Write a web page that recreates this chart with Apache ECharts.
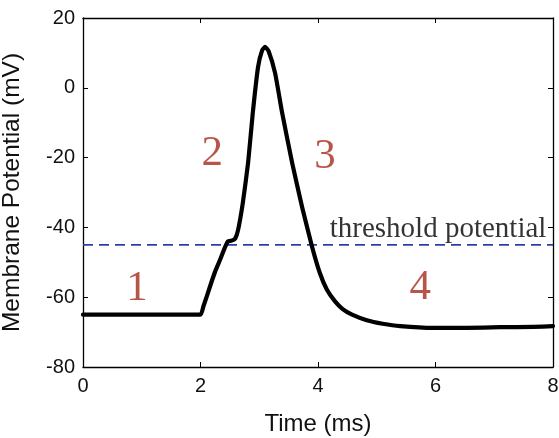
<!DOCTYPE html>
<html>
<head>
<meta charset="utf-8">
<script src="https://cdn.jsdelivr.net/npm/echarts@6/dist/echarts.min.js"></script>
<style>
  html, body { margin: 0; padding: 0; background: #fff; }
  #chart { width: 559px; height: 438px; }
</style>
</head>
<body>
<div id="chart"></div>
<script>
// membrane potential trace
const timeMs = [0, 1, 2.0, 2.05, 2.11, 2.18, 2.25, 2.34, 2.42, 2.47, 2.53, 2.59, 2.64, 2.72, 2.81, 2.89, 2.98, 3.05, 3.1, 3.16, 3.27, 3.39, 3.56, 3.73, 3.9, 4.03, 4.15, 4.29, 4.42, 4.58, 4.83, 5.1, 5.4, 5.96, 6.53, 7.1, 7.66, 8];
const voltage = [-65, -65, -65, -62.6, -59.6, -56, -52.6, -49, -45.6, -44, -43.8, -43.2, -40.7, -33, -21.5, -7.2, 6, 10.8, 11.7, 10.5, 4.2, -7.2, -21.5, -34.2, -45.6, -53, -57.8, -61.2, -63.4, -65, -66.6, -67.6, -68.3, -68.8, -68.8, -68.6, -68.5, -68.3];
const thresholdMv = -45;
const phaseLabels = ['1', '2', '3', '4'];
const phaseX = [0.92, 2.2, 4.12, 5.74];
const phaseY = [-57.6, -18.8, -19.6, -57.4];
const xTicks = [0, 2, 4, 6, 8];
const yTicks = [-80, -60, -40, -20, 0, 20];

const chart = echarts.init(document.getElementById('chart'));
const sans = 'Liberation Sans';
const serif = 'Liberation Serif';
const frame = { show: true, onZero: false, lineStyle: { color: '#000', width: 1.3 } };
const inTicks = { show: true, inside: true, length: 5, lineStyle: { color: '#000', width: 1 } };
const textColor = '#111';

chart.setOption({
  animation: false,
  grid: { left: 83, right: 6, top: 18, bottom: 71, containLabel: false, outerBoundsMode: 'none' },
  xAxis: [
    {
      type: 'value', min: xTicks[0], max: xTicks[xTicks.length - 1], interval: 2,
      axisLine: frame, axisTick: inTicks, splitLine: { show: false },
      axisLabel: { color: textColor, fontFamily: sans, fontSize: 20, margin: 9 },
      name: 'Time (ms)', nameLocation: 'middle', nameGap: 45,
      nameTextStyle: { color: textColor, fontFamily: sans, fontSize: 24 }
    },
    {
      type: 'value', min: 0, max: 8, interval: 2, position: 'top',
      axisLine: frame, axisTick: inTicks, axisLabel: { show: false }, splitLine: { show: false }
    }
  ],
  yAxis: [
    {
      type: 'value', min: yTicks[0], max: yTicks[yTicks.length - 1], interval: 20,
      axisLine: frame, axisTick: inTicks, splitLine: { show: false },
      axisLabel: { color: textColor, fontFamily: sans, fontSize: 20, margin: 8 },
      name: 'Membrane Potential (mV)', nameLocation: 'middle', nameGap: 58,
      nameTextStyle: { color: textColor, fontFamily: sans, fontSize: 24.5 }
    },
    {
      type: 'value', min: -80, max: 20, interval: 20, position: 'right',
      axisLine: frame, axisTick: inTicks, axisLabel: { show: false }, splitLine: { show: false }
    }
  ],
  series: [
    {
      type: 'line',
      data: [[0, thresholdMv], [8, thresholdMv]],
      symbol: 'none',
      lineStyle: { color: '#2b3f9e', width: 1.8, type: [10, 6] },
      z: 2
    },
    {
      type: 'line',
      data: timeMs.map((t, i) => [t, voltage[i]]),
      symbol: 'none',
      smooth: 0.15,
      lineStyle: { color: '#000', width: 4.2, join: 'round', cap: 'round' },
      z: 3
    },
    {
      type: 'scatter',
      symbolSize: 0,
      data: phaseLabels.map((s, i) => ({ value: [phaseX[i], phaseY[i]], name: s })),
      label: {
        show: true, position: 'inside', formatter: '{b}',
        color: '#a52a1c', fontFamily: serif, fontSize: 43
      },
      z: 4
    },
    {
      type: 'scatter',
      symbolSize: 0,
      data: [{ value: [4.2, -40.5], name: 'threshold potential' }],
      label: {
        show: true, position: 'right', distance: 0, formatter: '{b}',
        color: '#000', fontFamily: serif, fontSize: 29
      },
      z: 4
    }
  ]
});
</script>
</body>
</html>
